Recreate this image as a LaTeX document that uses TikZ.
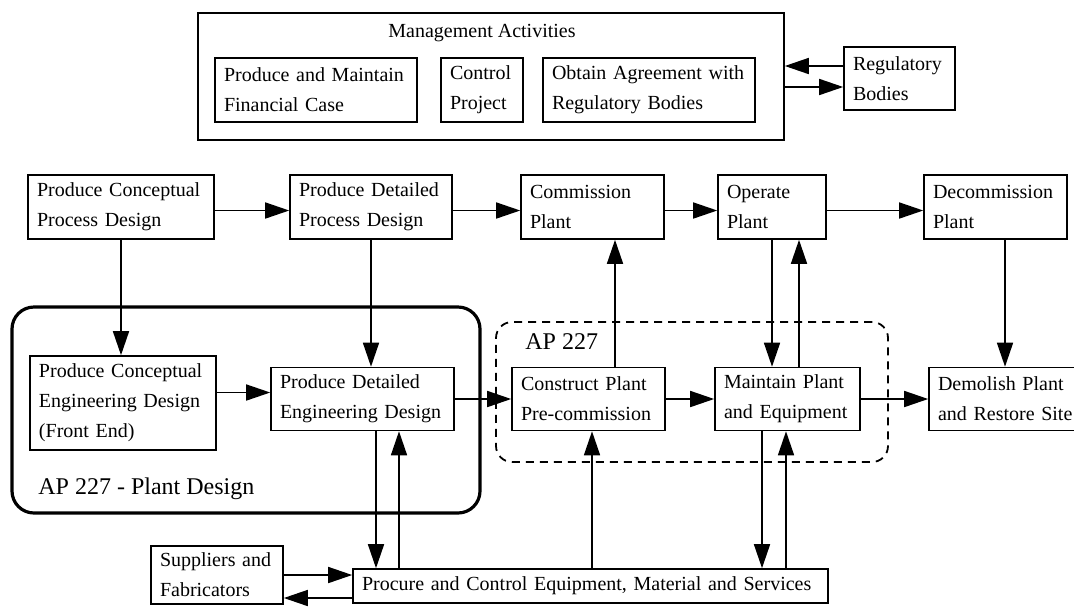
\documentclass[tikz,border=0pt]{standalone}
\usepackage{fontspec}
\setmainfont{Liberation Serif}
\usetikzlibrary{arrows.meta}
\tikzset{
  stage/.style 2 args={draw, line width=0.8pt, align=left, inner xsep=4.5pt, inner ysep=0pt,
    font=\fontsize{10}{15}\selectfont, text width=#1, minimum height=#2},
  flow/.style={line width=0.8pt, -{Triangle[length=12pt,width=8pt]}},
  caption/.style={inner sep=0pt, anchor=base west}
}
\begin{document}
\begin{tikzpicture}[x=0.5pt, y=-0.5pt]
    \useasboundingbox (0,0) rectangle (1074,606);
    % groupings
    \node[draw, line width=0.8pt, minimum width=293pt, minimum height=63.5pt] at (491,76.5) (mgmt) {};
    \node[draw, line width=1.6pt, rounded corners=11pt, minimum width=234pt, minimum height=103pt] at (246,410) (plantdesign) {};
    \node[draw, line width=0.9pt, dash pattern=on 4pt off 3pt, rounded corners=8pt, minimum width=196pt, minimum height=70pt] at (692,392) (scope) {};
    \node[caption, font=\fontsize{10}{15}\selectfont] at (388,37) (mgmtlabel) {Management Activities};
    \node[caption, font=\fontsize{12}{14}\selectfont] at (38,494) (plantdesignlabel) {AP 227 - Plant Design};
    \node[caption, font=\fontsize{12}{14}\selectfont] at (525,349) (scopelabel) {AP 227};
    % management
    \node[stage={92pt}{32pt}] at (316,90) (fin) {Produce and Maintain\\Financial Case};
    \node[stage={32pt}{32pt}] at (482,90) (ctrl) {Control\\Project};
    \node[stage={97pt}{32pt}] at (649,90) (agree) {Obtain Agreement with\\Regulatory Bodies};
    \node[stage={46.5pt}{31.5pt}] at (899.5,78.5) (reg) {Regulatory\\Bodies};
    % life cycle
    \node[stage={84pt}{32pt}] at (121,207) (pcpd) {Produce Conceptual\\Process Design};
    \node[stage={72pt}{32pt}] at (371,207) (pdpd) {Produce Detailed\\Process Design};
    \node[stage={62.5pt}{32pt}] at (592.5,207) (comm) {Commission\\Plant};
    \node[stage={45pt}{32pt}] at (772,207) (oper) {Operate\\Plant};
    \node[stage={62.5pt}{32pt}] at (995.5,207) (decom) {Decommission\\Plant};
    \node[stage={84pt}{47pt}] at (123,403) (pced) {Produce Conceptual\\Engineering Design\\(Front End)};
    \node[stage={82.5pt}{31.5pt}] at (362.5,399) (pded) {Produce Detailed\\Engineering Design};
    \node[stage={67.5pt}{31.5pt}] at (588.5,399) (cons) {Construct Plant\\Pre-commission};
    \node[stage={63.5pt}{31.5pt}] at (787.5,399) (mpe) {Maintain Plant\\and Equipment};
    \node[stage={72pt}{31.5pt}] at (1010,399) (demo) {Demolish Plant\\and Restore Site};
    % procurement
    \node[stage={57pt}{29pt}] at (217,575) (sup) {Suppliers and\\Fabricators};
    \node[stage={228.5pt}{17pt}] at (590.5,586) (proc) {Procure and Control Equipment, Material and Services};
    % management <-> regulators
    \draw[flow, transform canvas={yshift=6.25pt}] (reg) -- (reg -| mgmt.east);
    \draw[flow, transform canvas={yshift=-4.25pt}] (reg -| mgmt.east) -- (reg);
    % top row
    \begin{scope}[transform canvas={yshift=-1.75pt}]
    \draw[flow] (pcpd) -- (pdpd);
    \draw[flow] (pdpd) -- (comm);
    \draw[flow] (comm) -- (oper);
    \draw[flow] (oper) -- (decom);
    \end{scope}
    % down from the process design
    \draw[flow] (pcpd) -- (pcpd |- pced.north);
    \draw[flow] (pdpd) -- (pdpd |- pded.north);
    % second row
    \draw[flow, transform canvas={yshift=3.25pt}] (pced.east |- pded) -- (pded);
    \draw[flow] (pded) -- (cons);
    \draw[flow] (cons) -- (mpe);
    \draw[flow] (mpe) -- (demo);
    % between the rows
    \draw[flow, transform canvas={xshift=13.25pt}] (cons) -- (cons |- comm.south);
    \draw[flow] (oper) -- (oper |- mpe.north);
    \draw[flow, transform canvas={xshift=13.5pt}] (oper |- mpe.north) -- (oper);
    \draw[flow, transform canvas={xshift=-2.5pt}] (demo |- decom.south) -- (demo);
    % procurement links
    \draw[flow, transform canvas={xshift=6.75pt}] (pded) -- (pded |- proc.north);
    \draw[flow, transform canvas={xshift=18.25pt}] (pded |- proc.north) -- (pded);
    \draw[flow, transform canvas={xshift=1.75pt}] (cons |- proc.north) -- (cons);
    \draw[flow, transform canvas={xshift=-12.75pt}] (mpe) -- (mpe |- proc.north);
    \draw[flow, transform canvas={xshift=-0.75pt}] (mpe |- proc.north) -- (mpe);
    \draw[flow] (sup) -- (sup -| proc.west);
    \draw[flow, transform canvas={yshift=-6pt}] (proc) -- (proc -| sup.east);
\end{tikzpicture}
\end{document}
